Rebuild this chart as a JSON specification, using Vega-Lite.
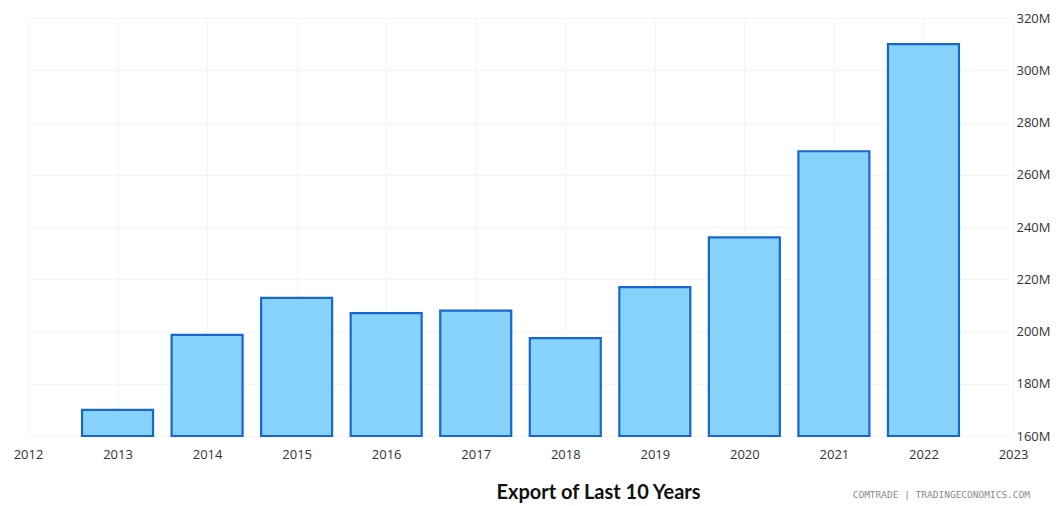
{
  "$schema": "https://vega.github.io/schema/vega-lite/v6.json",
  "width": 985,
  "height": 418,
  "autosize": {"type": "none"},
  "padding": {"left": 28, "top": 18, "right": 47, "bottom": 70},
  "background": "white",
  "config": {"view": {"stroke": null}},
  "title": {
    "text": "COMTRADE | TRADINGECONOMICS.COM",
    "orient": "bottom",
    "anchor": "end",
    "frame": "group",
    "font": "DejaVu Sans Mono",
    "fontSize": 9.5,
    "fontWeight": "normal",
    "color": "#8a8a8a",
    "dx": 17,
    "dy": -16
  },
  "data": {
    "values": [
      {"year": 2013, "export": 170},
      {"year": 2014, "export": 198.7},
      {"year": 2015, "export": 212.9},
      {"year": 2016, "export": 207},
      {"year": 2017, "export": 208},
      {"year": 2018, "export": 197.5},
      {"year": 2019, "export": 217},
      {"year": 2020, "export": 236},
      {"year": 2021, "export": 269},
      {"year": 2022, "export": 310}
    ]
  },
  "mark": {
    "type": "bar",
    "size": 71,
    "fill": "#87d2fb",
    "stroke": "#1767cc",
    "strokeWidth": 2.2
  },
  "encoding": {
    "x": {
      "field": "year",
      "type": "quantitative",
      "scale": {"domain": [2012, 2023], "nice": false, "zero": false, "padding": 0},
      "axis": {
        "values": [2012, 2013, 2014, 2015, 2016, 2017, 2018, 2019, 2020, 2021, 2022, 2023],
        "format": "d",
        "domain": false,
        "ticks": false,
        "grid": true,
        "gridColor": "#f4f4f4",
        "labelFont": "Open Sans",
        "labelFontSize": 13,
        "labelColor": "#333333",
        "labelPadding": 12,
        "labelFlush": false,
        "labelOverlap": false,
        "title": "Export of Last 10 Years",
        "titleFont": "Lato",
        "titleFontSize": 20,
        "titleFontWeight": "bold",
        "titleColor": "#111111",
        "titleX": 570,
        "titleY": 56,
        "titleAnchor": null,
        "titleAlign": "center",
        "titleBaseline": "middle"
      }
    },
    "y": {
      "field": "export",
      "type": "quantitative",
      "scale": {"domain": [160, 320], "nice": false, "zero": false},
      "axis": {
        "orient": "right",
        "values": [160, 180, 200, 220, 240, 260, 280, 300, 320],
        "labelExpr": "datum.value + 'M'",
        "domain": false,
        "ticks": false,
        "grid": true,
        "gridColor": "#f4f4f4",
        "labelFont": "Open Sans",
        "labelFontSize": 13,
        "labelColor": "#333333",
        "labelPadding": 3,
        "labelFlush": false,
        "title": null
      }
    },
    "y2": {"datum": 160}
  }
}
